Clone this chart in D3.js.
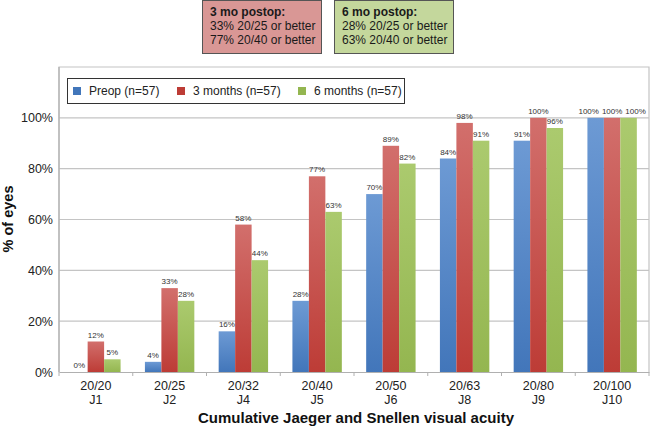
<!DOCTYPE html>
<html>
<head>
<meta charset="utf-8">
<script src="https://cdn.jsdelivr.net/npm/d3@7"></script>
<style>
  html, body { margin: 0; padding: 0; background: #fff; }
  svg { display: block; font-family: "Liberation Sans", Arial, sans-serif; }
</style>
</head>
<body>
<svg id="chart" width="652" height="427"></svg>
<script>
const categories = ["20/20|J1", "20/25|J2", "20/32|J4", "20/40|J5", "20/50|J6", "20/63|J8", "20/80|J9", "20/100|J10"];
const seriesNames = ["Preop (n=57)", "3 months (n=57)", "6 months (n=57)"];
const preop = [0, 4, 16, 28, 70, 84, 91, 100];
const months3 = [12, 33, 58, 77, 89, 98, 100, 100];
const months6 = [5, 28, 44, 63, 82, 91, 96, 100];
const yTicks = [0, 20, 40, 60, 80, 100];
const box3 = ["3 mo postop:", "33% 20/25 or better", "77% 20/40 or better"];
const box6 = ["6 mo postop:", "28% 20/25 or better", "63% 20/40 or better"];

const colors = [["#6d9ad4", "#4276ba"], ["#d26f6c", "#bd3c36"], ["#abca6e", "#94b650"]];
const series = [preop, months3, months6];

const svg = d3.select("#chart");
const pL = 59, pR = 649, pT = 67, pB = 372;

const defs = svg.append("defs");
colors.forEach((c, i) => {
  const g = defs.append("linearGradient").attr("id", "g" + i)
    .attr("x1", 0).attr("y1", 0).attr("x2", 0).attr("y2", 1);
  g.append("stop").attr("offset", "0%").attr("stop-color", c[0]);
  g.append("stop").attr("offset", "100%").attr("stop-color", c[1]);
});

const x0 = d3.scaleBand().domain(categories).range([pL, pR]).paddingInner(0.33).paddingOuter(0.165);
const xBand = d3.scaleBand().domain(categories).range([pL, pR]);
const x1 = d3.scaleBand().domain([0, 1, 2]).range([0, x0.bandwidth()]);
const y = d3.scaleLinear().domain([0, 120]).range([pB, pT]);

// gridlines
svg.append("g").selectAll("line").data(yTicks.slice(1)).join("line")
  .attr("x1", pL).attr("x2", pR)
  .attr("y1", d => y(d)).attr("y2", d => y(d))
  .attr("stroke", "#c4c4c4").attr("stroke-width", 1.2);

// frame
svg.append("path")
  .attr("d", `M${pL},${pB}V${pT}H${pR}V${pB}`)
  .attr("fill", "none").attr("stroke", "#c4c4c4").attr("stroke-width", 1.2);

// bars
const groups = svg.append("g").selectAll("g").data(categories).join("g")
  .attr("transform", d => `translate(${x0(d)},0)`);
groups.selectAll("rect").data((d, i) => series.map((s, k) => ({k, v: s[i]}))).join("rect")
  .attr("x", d => x1(d.k)).attr("width", x1.bandwidth())
  .attr("y", d => y(d.v)).attr("height", d => y(0) - y(d.v))
  .attr("fill", d => `url(#g${d.k})`);
groups.each(function() {
  const g = d3.select(this);
  const labels = g.selectAll("text").data(g.selectAll("rect").data()).join("text")
    .attr("x", d => x1(d.k) + x1.bandwidth() / 2)
    .attr("y", d => y(d.v) - 4)
    .attr("text-anchor", "middle").attr("font-size", 8).attr("fill", "#333")
    .text(d => d.v + "%");
  // simple overlap avoidance for labels at the same height
  const nodes = labels.nodes();
  const info = nodes.map(n => ({n, cx: +n.getAttribute("x"), y: +n.getAttribute("y"), w: n.getComputedTextLength()}));
  for (let it = 0; it < 20; it++) {
    for (let i = 0; i < info.length - 1; i++) {
      const a = info[i], b = info[i + 1];
      if (Math.abs(a.y - b.y) > 9) continue;
      const need = (a.w + b.w) / 2 + 3 - (b.cx - a.cx);
      if (need > 0) { a.cx -= need / 2; b.cx += need / 2; }
    }
  }
  info.forEach(o => o.n.setAttribute("x", o.cx));
});

// x axis
const xAxis = svg.append("g").attr("transform", `translate(0,${pB})`)
  .call(d3.axisBottom(xBand).tickSize(0).tickFormat(""));
xAxis.select(".domain").attr("stroke", "#b0b0b0").attr("stroke-width", 1.2);
xAxis.selectAll(".tick").remove();
svg.append("g").selectAll("line").data(d3.range(categories.length + 1)).join("line")
  .attr("x1", i => pL + i * xBand.step()).attr("x2", i => pL + i * xBand.step())
  .attr("y1", pB).attr("y2", pB + 4)
  .attr("stroke", "#b0b0b0");
svg.append("g").selectAll("text").data(categories).join("text")
  .attr("text-anchor", "middle").attr("font-size", 12.5).attr("fill", "#222")
  .each(function(d) {
    const parts = d.split("|");
    const cx = xBand(d) + xBand.bandwidth() / 2;
    d3.select(this).append("tspan").attr("x", cx).attr("y", 390).text(parts[0]);
    d3.select(this).append("tspan").attr("x", cx).attr("y", 404).text(parts[1]);
  });

// y axis
const yAxis = svg.append("g").attr("transform", `translate(${pL},0)`)
  .call(d3.axisLeft(y).tickValues(yTicks).tickSize(0).tickPadding(6).tickFormat(d => d + "%"));
yAxis.select(".domain").remove();
yAxis.selectAll("text").attr("font-size", 12.5).attr("fill", "#222")
  .attr("font-family", "Liberation Sans, Arial, sans-serif");
svg.append("line").attr("x1", pL).attr("x2", pL).attr("y1", pT).attr("y2", pB)
  .attr("stroke", "#b0b0b0").attr("stroke-width", 1.2);

// axis titles
svg.append("text").attr("x", 356).attr("y", 423).attr("text-anchor", "middle")
  .attr("font-size", 15).attr("font-weight", "bold").attr("fill", "#111")
  .text("Cumulative Jaeger and Snellen visual acuity");
svg.append("text").attr("transform", "translate(13,219) rotate(-90)").attr("text-anchor", "middle")
  .attr("font-size", 14.5).attr("font-weight", "bold").attr("fill", "#111")
  .text("% of eyes");

// legend
const lg = svg.append("g");
lg.append("rect").attr("x", 67.5).attr("y", 78.5).attr("width", 337).attr("height", 25)
  .attr("fill", "#fff").attr("stroke", "#333").attr("stroke-width", 1);
const legX = [73, 177, 298];
seriesNames.forEach((n, i) => {
  lg.append("rect").attr("x", legX[i]).attr("y", 87).attr("width", 8).attr("height", 8).attr("fill", colors[i][1]);
  lg.append("text").attr("x", legX[i] + 16).attr("y", 95).attr("font-size", 12).attr("fill", "#222").text(n);
});

// annotation boxes
function annBox(x, fill, lines) {
  const g = svg.append("g");
  g.append("rect").attr("x", x + 0.5).attr("y", 0.5).attr("width", 119).attr("height", 53)
    .attr("fill", fill).attr("stroke", "#555").attr("stroke-width", 1);
  lines.forEach((t, i) => {
    g.append("text").attr("x", x + 8).attr("y", 16 + i * 14).attr("font-size", 12)
      .attr("font-weight", i === 0 ? "bold" : "normal").attr("fill", "#1a1a1a").text(t);
  });
}
annBox(202, "#d99795", box3);
annBox(334, "#c4d79c", box6);
</script>
</body>
</html>
